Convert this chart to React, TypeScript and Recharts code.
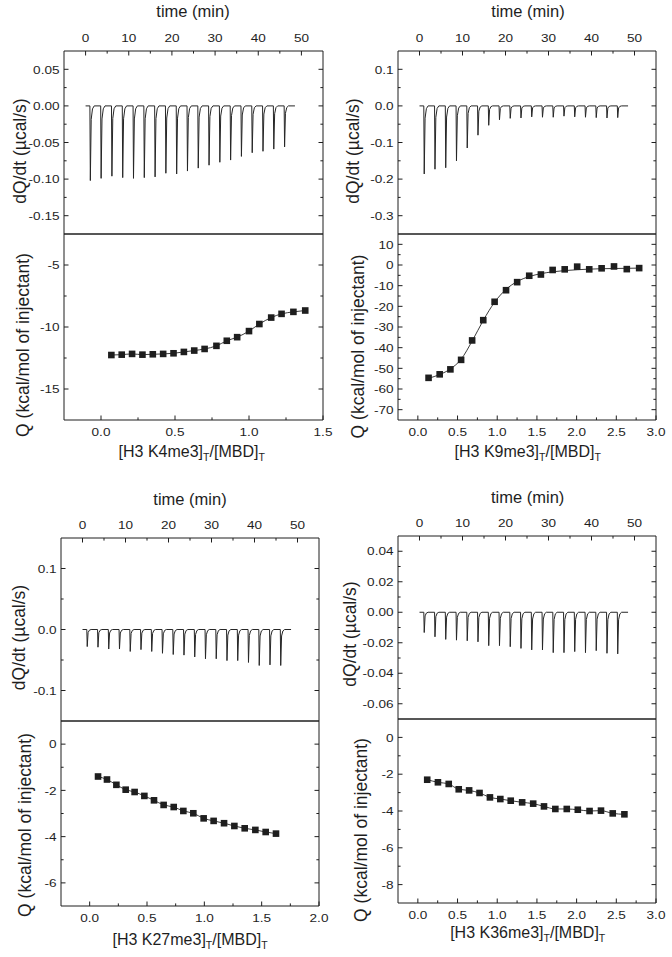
import React from 'react';
import { ComposedChart, Line, XAxis, YAxis } from 'recharts';

const FONT = "'Liberation Sans', Arial, Helvetica, sans-serif";
const INK = '#1e1e1e';
const TRACE = '#262626';

// ---------- shared time axis ----------
const TIME_MAJOR = [0, 10, 20, 30, 40, 50];
const TIME_MINOR = [5, 15, 25, 35, 45];
const TRACE_START = 0;
const TRACE_END = 48.5;
const INJ_TIMES = [1, 3.5, 6, 8.5, 11, 13.5, 16, 18.5, 21, 23.5, 26, 28.5, 31, 33.5, 36, 38.5, 41, 43.5, 46];
// relative time (min), fraction of peak depth
const PEAK_SHAPE = [[0, 0], [0.1, 1], [0.3, 0.18], [0.6, 0.04], [1.0, 0]];

// ---------- H3 K4me3 ----------
const K4_PEAKS = [-0.102, -0.099, -0.096, -0.098, -0.099, -0.098, -0.097, -0.092, -0.093, -0.089, -0.085, -0.081, -0.077, -0.074, -0.069, -0.064, -0.062, -0.059, -0.056];
const K4_X = [0.07, 0.14, 0.21, 0.28, 0.35, 0.42, 0.49, 0.56, 0.63, 0.70, 0.78, 0.85, 0.92, 1.0, 1.07, 1.15, 1.22, 1.30, 1.38];
const K4_Q = [-12.26, -12.23, -12.17, -12.23, -12.2, -12.17, -12.12, -12.01, -11.9, -11.77, -11.52, -11.11, -10.82, -10.33, -9.76, -9.24, -8.94, -8.78, -8.67];
const K4_TOP_MAJOR = [0.05, 0, -0.05, -0.1, -0.15];
const K4_TOP_MINOR = [0.025, -0.025, -0.075, -0.125];
const K4_Q_MAJOR = [-5, -10, -15];
const K4_Q_MINOR = [-7.5, -12.5];
const K4_R_MAJOR = [0, 0.5, 1.0, 1.5];
const K4_R_MINOR = [0.25, 0.75, 1.25];

// ---------- H3 K9me3 ----------
const K9_PEAKS = [-0.186, -0.173, -0.169, -0.150, -0.115, -0.080, -0.053, -0.038, -0.034, -0.033, -0.030, -0.031, -0.031, -0.028, -0.030, -0.031, -0.032, -0.033, -0.032];
const K9_X = [0.135, 0.275, 0.41, 0.545, 0.684, 0.824, 0.967, 1.111, 1.251, 1.403, 1.55, 1.698, 1.85, 2.007, 2.159, 2.315, 2.471, 2.632, 2.788];
const K9_Q = [-54.6, -52.9, -50.5, -45.9, -36.5, -26.7, -17.8, -12.2, -8.3, -5.2, -4.6, -2.4, -2.1, -0.8, -2.1, -1.6, -0.7, -2.0, -1.5];
const K9_FIT = [-54.8, -53.0, -50.3, -45.6, -36.8, -26.8, -18.0, -11.8, -8.0, -5.6, -4.2, -3.3, -2.7, -2.3, -2.0, -1.8, -1.7, -1.6, -1.5];
const K9_TOP_MAJOR = [0.1, 0, -0.1, -0.2, -0.3];
const K9_TOP_MINOR = [0.05, -0.05, -0.15, -0.25];
const K9_Q_MAJOR = [10, 0, -10, -20, -30, -40, -50, -60, -70];
const K9_Q_MINOR = [5, -5, -15, -25, -35, -45, -55, -65];
const WIDE_R_MAJOR = [0, 0.5, 1.0, 1.5, 2.0, 2.5, 3.0];
const WIDE_R_MINOR = [0.25, 0.75, 1.25, 1.75, 2.25, 2.75];

// ---------- H3 K27me3 ----------
const K27_PEAKS = [-0.028, -0.029, -0.032, -0.032, -0.036, -0.033, -0.036, -0.039, -0.041, -0.042, -0.045, -0.048, -0.048, -0.051, -0.051, -0.054, -0.059, -0.058, -0.059];
const K27_X = [0.073, 0.151, 0.233, 0.314, 0.392, 0.477, 0.561, 0.645, 0.733, 0.817, 0.904, 0.994, 1.081, 1.172, 1.262, 1.352, 1.445, 1.535, 1.625];
const K27_Q = [-1.40, -1.53, -1.76, -1.97, -2.07, -2.24, -2.43, -2.63, -2.72, -2.89, -2.99, -3.21, -3.32, -3.42, -3.54, -3.64, -3.71, -3.80, -3.87];
const K27_TOP_MAJOR = [0.1, 0, -0.1];
const K27_TOP_MINOR = [0.05, -0.05];
const K27_Q_MAJOR = [0, -2, -4, -6];
const K27_Q_MINOR = [-1, -3, -5];
const K27_R_MAJOR = [0, 0.5, 1.0, 1.5, 2.0];
const K27_R_MINOR = [0.25, 0.75, 1.25, 1.75];

// ---------- H3 K36me3 ----------
const K36_PEAKS = [-0.0133, -0.0161, -0.0178, -0.0183, -0.0187, -0.0194, -0.0219, -0.0219, -0.0226, -0.0237, -0.0247, -0.0247, -0.0265, -0.0265, -0.0258, -0.0265, -0.0252, -0.0269, -0.0273];
const K36_X = [0.118, 0.253, 0.389, 0.515, 0.646, 0.777, 0.908, 1.039, 1.17, 1.314, 1.453, 1.589, 1.732, 1.876, 2.015, 2.163, 2.307, 2.455, 2.602];
const K36_Q = [-2.30, -2.44, -2.53, -2.82, -2.88, -3.02, -3.26, -3.35, -3.44, -3.53, -3.60, -3.75, -3.89, -3.89, -3.93, -4.00, -3.98, -4.13, -4.18];
const K36_TOP_MAJOR = [0.04, 0.02, 0, -0.02, -0.04, -0.06];
const K36_TOP_MINOR = [0.03, 0.01, -0.01, -0.03, -0.05];
const K36_Q_MAJOR = [0, -2, -4, -6, -8];
const K36_Q_MINOR = [-1, -3, -5, -7];

// ---------- helpers ----------
function buildTrace(times: number[], peaks: number[]) {
  const pts: { t: number; v: number }[] = [{ t: TRACE_START, v: 0 }];
  times.forEach((t0, i) => {
    PEAK_SHAPE.forEach(([dt, f]) => pts.push({ t: t0 + dt, v: peaks[i] * f }));
  });
  pts.push({ t: TRACE_END, v: 0 });
  return pts;
}

function buildIso(xs: number[], qs: number[], fit?: number[]) {
  return xs.map((x, i) => ({ x, q: qs[i], fit: fit ? fit[i] : qs[i] }));
}

type Side = 'top' | 'bottom' | 'left' | 'right';

function makeTick(side: Side, majors: number[], decimals: number, showLabel: boolean) {
  return (props: any) => {
    const { x, y, payload, index } = props;
    const v = payload.value as number;
    const isMajor = majors.some((m) => Math.abs(m - v) < 1e-9);
    const len = isMajor ? 4.5 : 2.6;
    const text = v.toFixed(decimals);
    let line: any = null;
    let label: any = null;
    const ts = { fontFamily: FONT, fontSize: 11.8, fill: INK } as any;
    if (side === 'top') {
      line = <line x1={x} y1={y} x2={x} y2={y + len} stroke={INK} strokeWidth={1} />;
      if (showLabel && isMajor)
        label = <text transform={`translate(${x},${y - 9.5}) scale(1.15,1)`} textAnchor="middle" {...ts}>{text}</text>;
    } else if (side === 'bottom') {
      line = <line x1={x} y1={y} x2={x} y2={y - len} stroke={INK} strokeWidth={1} />;
      if (showLabel && isMajor)
        label = <text transform={`translate(${x},${y + 16}) scale(1.15,1)`} textAnchor="middle" {...ts}>{text}</text>;
    } else if (side === 'left') {
      line = <line x1={x} y1={y} x2={x + len} y2={y} stroke={INK} strokeWidth={1} />;
      if (showLabel && isMajor)
        label = <text transform={`translate(${x - 4.5},${y + 4.2}) scale(1.15,1)`} textAnchor="end" {...ts}>{text}</text>;
    } else {
      line = <line x1={x} y1={y} x2={x - len} y2={y} stroke={INK} strokeWidth={1} />;
    }
    return (
      <g key={`tk-${side}-${index}`}>
        {line}
        {label}
      </g>
    );
  };
}

const squareDot = (props: any) => {
  const { cx, cy, index } = props;
  if (cx == null || cy == null) return <g key={`sq-${index}`} />;
  return <rect key={`sq-${index}`} x={cx - 3.3} y={cy - 3.3} width={6.6} height={6.6} fill={INK} />;
};

type Box = { l: number; r: number; t: number; b: number };
const AX = 1; // axis band size (must be > 0 for Recharts to draw the axis)

function marginFor(left: number, top: number, width: number, height: number, box: Box) {
  return {
    top: box.t - top - AX,
    bottom: top + height - box.b - AX,
    left: box.l - left - AX,
    right: left + width - box.r - AX,
  };
}

function Thermo(p: {
  left: number; top: number; box: Box; peaks: number[];
  yDomain: [number, number]; yMajor: number[]; yMinor: number[]; yDec: number;
}) {
  const width = 336;
  const height = 240;
  const data = buildTrace(INJ_TIMES, p.peaks);
  const margin = marginFor(p.left, p.top, width, height, p.box);
  const yTicks = [...p.yMajor, ...p.yMinor];
  return (
    <div style={{ position: 'absolute', left: p.left, top: p.top, width, height }}>
      <ComposedChart width={width} height={height} data={data} margin={margin}>
        <XAxis xAxisId="t" dataKey="t" type="number" orientation="top" domain={[-5, 55]} allowDataOverflow
          ticks={[...TIME_MAJOR, ...TIME_MINOR]} interval={0} height={AX} tickSize={0} tickMargin={0}
          tickLine={false} axisLine={{ stroke: INK, strokeWidth: 1 }} tick={makeTick('top', TIME_MAJOR, 0, true)} />
        <XAxis xAxisId="b" type="number" orientation="bottom" domain={[-5, 55]} allowDataOverflow height={AX}
          tick={false} tickLine={false} axisLine={{ stroke: INK, strokeWidth: 1 }} />
        <YAxis yAxisId="l" type="number" orientation="left" domain={p.yDomain} allowDataOverflow ticks={yTicks}
          interval={0} width={AX} tickSize={0} tickMargin={0} tickLine={false}
          axisLine={{ stroke: INK, strokeWidth: 1 }} tick={makeTick('left', p.yMajor, p.yDec, true)} />
        <YAxis yAxisId="r" type="number" orientation="right" domain={p.yDomain} allowDataOverflow ticks={yTicks}
          interval={0} width={AX} tickSize={0} tickMargin={0} tickLine={false}
          axisLine={{ stroke: INK, strokeWidth: 1 }} tick={makeTick('right', p.yMajor, p.yDec, false)} />
        <Line xAxisId="t" yAxisId="l" dataKey="v" type="linear" stroke={TRACE} strokeWidth={1} dot={false}
          isAnimationActive={false} />
      </ComposedChart>
    </div>
  );
}

function Iso(p: {
  left: number; top: number; box: Box; xs: number[]; qs: number[]; fit?: number[];
  xDomain: [number, number]; xMajor: number[]; xMinor: number[];
  yDomain: [number, number]; yMajor: number[]; yMinor: number[];
}) {
  const width = 336;
  const height = 225;
  const data = buildIso(p.xs, p.qs, p.fit);
  const margin = marginFor(p.left, p.top, width, height, p.box);
  const yTicks = [...p.yMajor, ...p.yMinor];
  return (
    <div style={{ position: 'absolute', left: p.left, top: p.top, width, height }}>
      <ComposedChart width={width} height={height} data={data} margin={margin}>
        <XAxis xAxisId="x" dataKey="x" type="number" orientation="bottom" domain={p.xDomain} allowDataOverflow
          ticks={[...p.xMajor, ...p.xMinor]} interval={0} height={AX} tickSize={0} tickMargin={0}
          tickLine={false} axisLine={{ stroke: INK, strokeWidth: 1 }} tick={makeTick('bottom', p.xMajor, 1, true)} />
        <XAxis xAxisId="tt" type="number" orientation="top" domain={p.xDomain} allowDataOverflow height={AX}
          tick={false} tickLine={false} axisLine={{ stroke: INK, strokeWidth: 1 }} />
        <YAxis yAxisId="l" type="number" orientation="left" domain={p.yDomain} allowDataOverflow ticks={yTicks}
          interval={0} width={AX} tickSize={0} tickMargin={0} tickLine={false}
          axisLine={{ stroke: INK, strokeWidth: 1 }} tick={makeTick('left', p.yMajor, 0, true)} />
        <YAxis yAxisId="r" type="number" orientation="right" domain={p.yDomain} allowDataOverflow ticks={yTicks}
          interval={0} width={AX} tickSize={0} tickMargin={0} tickLine={false}
          axisLine={{ stroke: INK, strokeWidth: 1 }} tick={makeTick('right', p.yMajor, 0, false)} />
        <Line xAxisId="x" yAxisId="l" dataKey="fit" type="monotone" stroke={TRACE} strokeWidth={0.9} dot={false}
          isAnimationActive={false} />
        <Line xAxisId="x" yAxisId="l" dataKey="q" type="monotone" stroke="none" dot={squareDot}
          activeDot={false} isAnimationActive={false} />
      </ComposedChart>
    </div>
  );
}

function XTitle(p: { x: number; y: number; name: string }) {
  return (
    <text x={p.x} y={p.y} textAnchor="middle" fontFamily={FONT} fontSize={16} fill={INK}>
      {`[H3 ${p.name}]`}
      <tspan fontSize={10.5} dy={4}>T</tspan>
      <tspan dy={-4}>/[MBD]</tspan>
      <tspan fontSize={10.5} dy={4}>T</tspan>
    </text>
  );
}

function YTitle(p: { x: number; cy: number; text: string }) {
  return (
    <text transform={`translate(${p.x},${p.cy}) rotate(-90)`} textAnchor="middle" fontFamily={FONT} fontSize={17.5} fill={INK}>
      {p.text}
    </text>
  );
}

function TimeTitle(p: { x: number; y: number }) {
  return (
    <text x={p.x} y={p.y} textAnchor="middle" fontFamily={FONT} fontSize={16.5} fill={INK}>time (min)</text>
  );
}

export default function App() {
  const DQ = 'dQ/dt (\u00b5cal/s)';
  const QL = 'Q (kcal/mol of injectant)';
  return (
    <div style={{ position: 'absolute', left: 0, top: 0, width: 672, height: 957, background: '#fff', overflow: 'hidden' }}>
      {/* Panel 1: K4me3 */}
      <Thermo left={0} top={0} box={{ l: 64, r: 323, t: 51, b: 234 }} peaks={K4_PEAKS}
        yDomain={[-0.175, 0.075]} yMajor={K4_TOP_MAJOR} yMinor={K4_TOP_MINOR} yDec={2} />
      <Iso left={0} top={228} box={{ l: 64, r: 323, t: 234, b: 420 }} xs={K4_X} qs={K4_Q}
        xDomain={[-0.25, 1.5]} xMajor={K4_R_MAJOR} xMinor={K4_R_MINOR}
        yDomain={[-17.5, -2.5]} yMajor={K4_Q_MAJOR} yMinor={K4_Q_MINOR} />

      {/* Panel 2: K9me3 */}
      <Thermo left={336} top={0} box={{ l: 398, r: 656, t: 51, b: 234 }} peaks={K9_PEAKS}
        yDomain={[-0.35, 0.15]} yMajor={K9_TOP_MAJOR} yMinor={K9_TOP_MINOR} yDec={1} />
      <Iso left={336} top={228} box={{ l: 398, r: 656, t: 234, b: 420 }} xs={K9_X} qs={K9_Q} fit={K9_FIT}
        xDomain={[-0.25, 3.0]} xMajor={WIDE_R_MAJOR} xMinor={WIDE_R_MINOR}
        yDomain={[-75, 15]} yMajor={K9_Q_MAJOR} yMinor={K9_Q_MINOR} />

      {/* Panel 3: K27me3 */}
      <Thermo left={0} top={487} box={{ l: 61, r: 319, t: 538, b: 721 }} peaks={K27_PEAKS}
        yDomain={[-0.15, 0.15]} yMajor={K27_TOP_MAJOR} yMinor={K27_TOP_MINOR} yDec={1} />
      <Iso left={0} top={715} box={{ l: 61, r: 319, t: 721, b: 906 }} xs={K27_X} qs={K27_Q}
        xDomain={[-0.25, 2.0]} xMajor={K27_R_MAJOR} xMinor={K27_R_MINOR}
        yDomain={[-7, 1]} yMajor={K27_Q_MAJOR} yMinor={K27_Q_MINOR} />

      {/* Panel 4: K36me3 */}
      <Thermo left={336} top={485} box={{ l: 398, r: 656, t: 536, b: 719 }} peaks={K36_PEAKS}
        yDomain={[-0.07, 0.05]} yMajor={K36_TOP_MAJOR} yMinor={K36_TOP_MINOR} yDec={2} />
      <Iso left={336} top={713} box={{ l: 398, r: 656, t: 719, b: 903 }} xs={K36_X} qs={K36_Q}
        xDomain={[-0.25, 3.0]} xMajor={WIDE_R_MAJOR} xMinor={WIDE_R_MINOR}
        yDomain={[-9, 1]} yMajor={K36_Q_MAJOR} yMinor={K36_Q_MINOR} />

      <svg width={672} height={957} style={{ position: 'absolute', left: 0, top: 0, pointerEvents: 'none' }}>
        <TimeTitle x={193} y={17.3} />
        <TimeTitle x={528} y={17.3} />
        <TimeTitle x={190} y={504.7} />
        <TimeTitle x={527.7} y={502.5} />
        <YTitle x={26} cy={151} text={DQ} />
        <YTitle x={359} cy={151} text={DQ} />
        <YTitle x={24.5} cy={637.5} text={DQ} />
        <YTitle x={355.5} cy={634} text={DQ} />
        <YTitle x={28.5} cy={345} text={QL} />
        <YTitle x={364} cy={346.5} text={QL} />
        <YTitle x={31} cy={825} text={QL} />
        <YTitle x={367} cy={830} text={QL} />
        <XTitle x={191.7} y={457} name="K4me3" />
        <XTitle x={527.7} y={457} name="K9me3" />
        <XTitle x={190} y={945} name="K27me3" />
        <XTitle x={527.7} y={938.4} name="K36me3" />
      </svg>
    </div>
  );
}
